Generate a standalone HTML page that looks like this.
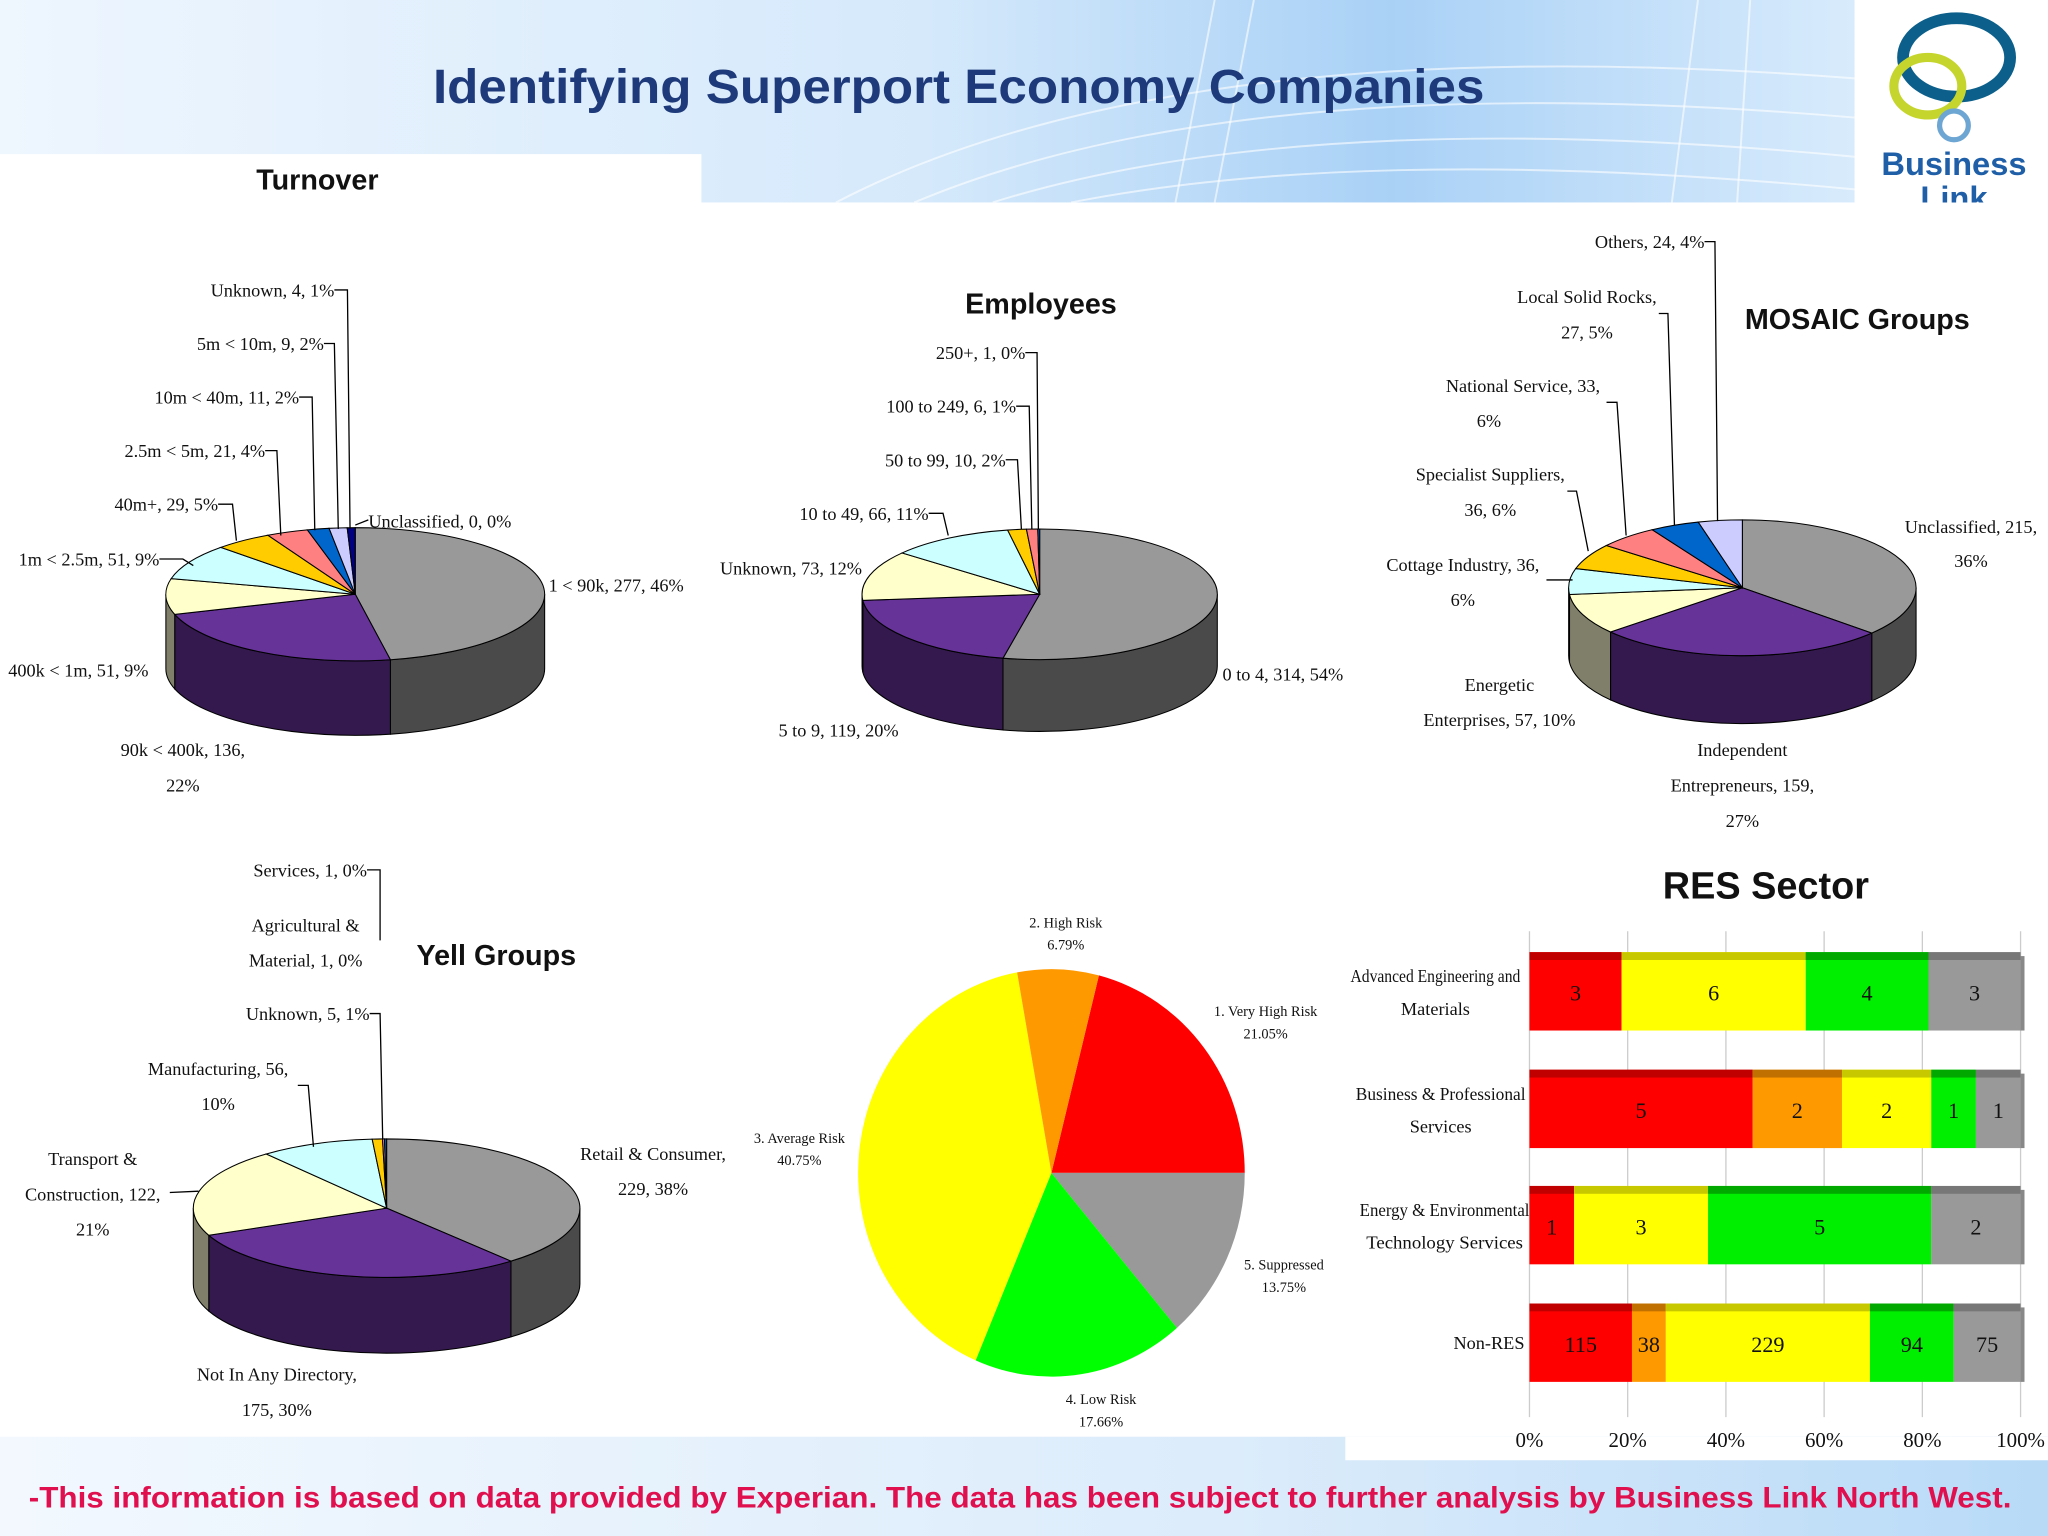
<!DOCTYPE html>
<html><head><meta charset="utf-8"><style>
html,body{margin:0;padding:0;background:#fff;}
svg{display:block;}
.n{font-family:"Liberation Serif","DejaVu Serif",serif;fill:#111;}
.t{font-family:"Liberation Sans Narrow","Liberation Sans",sans-serif;font-weight:bold;fill:#111;}
</style></head><body>
<svg id="s" width="2048" height="1536" viewBox="0 0 1568 1176" xmlns="http://www.w3.org/2000/svg">
<defs>
<linearGradient id="hg" x1="0" x2="1" y1="0" y2="0"><stop offset="0" stop-color="#eef6fe"/><stop offset="0.5" stop-color="#d5e9fb"/><stop offset="0.75" stop-color="#a9d1f6"/><stop offset="1" stop-color="#d8ebfc"/></linearGradient>
<linearGradient id="fg" x1="0" x2="1"><stop offset="0" stop-color="#f2f8fe"/><stop offset="0.6" stop-color="#dcecfb"/><stop offset="1" stop-color="#b8daf7"/></linearGradient>
</defs>
<rect x="0" y="0" width="1420" height="155" fill="url(#hg)"/>
<g stroke="#fff" stroke-opacity="0.6" fill="none" stroke-width="1.5">
<path d="M640 155 Q900 20 1420 60"/><path d="M700 155 Q950 50 1420 90"/><path d="M760 155 Q1000 80 1420 120"/><path d="M820 155 Q1050 110 1420 145"/><path d="M930 0 L900 155"/><path d="M960 0 L930 155"/><path d="M1300 0 L1280 155"/><path d="M1340 0 L1330 155"/>
</g>
<rect x="0" y="118" width="537" height="40" fill="#fff"/>
<rect x="1420" y="0" width="148" height="155" fill="#fff"/>
<g>
<ellipse cx="1498" cy="44" rx="41" ry="30" fill="none" stroke="#0b5f8a" stroke-width="9"/>
<ellipse cx="1476" cy="66" rx="26" ry="22" fill="none" stroke="#c5d52e" stroke-width="7"/>
<circle cx="1496" cy="96" r="11" fill="none" stroke="#6ea6d3" stroke-width="4"/>
<text x="1496" y="134" text-anchor="middle" font-family="Liberation Sans" font-weight="bold" font-size="25" fill="#1f5fa8">Business</text>
<svg x="1420" y="136" width="148" height="19"><text x="76" y="24" text-anchor="middle" font-family="Liberation Sans" font-weight="bold" font-size="25" fill="#1f5fa8">Link</text></svg>
</g>
<text x="734" y="79" text-anchor="middle" font-family="Liberation Sans" font-weight="bold" font-size="37" fill="#1f3a7a" textLength="805" lengthAdjust="spacingAndGlyphs">Identifying Superport Economy Companies</text>
<rect x="0" y="1100" width="1568" height="76" fill="url(#fg)"/>
<rect x="1030" y="1100" width="538" height="18" fill="#fff"/>
<text x="22" y="1154" font-family="Liberation Sans" font-weight="bold" font-size="23" fill="#e0104f" textLength="1518" lengthAdjust="spacingAndGlyphs">-This information is based on data provided by Experian. The data has been subject to further analysis by Business Link North West.</text>
<g id="charts"></g>
</svg>
<script>
// ---- data ----
const turnoverLabels=["1 < 90k","90k < 400k","400k < 1m","1m < 2.5m","40m+","2.5m < 5m","10m < 40m","5m < 10m","Unknown","Unclassified"];
const turnoverValues=[277,136,51,51,29,21,11,9,4,0];
const turnoverPct=["46%","22%","9%","9%","5%","4%","2%","2%","1%","0%"];
const employeeLabels=["0 to 4","5 to 9","Unknown","10 to 49","50 to 99","100 to 249","250+"];
const employeeValues=[314,119,73,66,10,6,1];
const employeePct=["54%","20%","12%","11%","2%","1%","0%"];
const mosaicLabels=["Unclassified","Independent Entrepreneurs","Energetic Enterprises","Cottage Industry","Specialist Suppliers","National Service","Local Solid Rocks","Others"];
const mosaicValues=[215,159,57,36,36,33,27,24];
const mosaicPct=["36%","27%","10%","6%","6%","6%","5%","4%"];
const yellLabels=["Retail & Consumer","Not In Any Directory","Transport & Construction","Manufacturing","Unknown","Agricultural & Material","Services"];
const yellValues=[229,175,122,56,5,1,1];
const yellPct=["38%","30%","21%","10%","1%","0%","0%"];
const riskLabels=["1. Very High Risk","5. Suppressed","4. Low Risk","3. Average Risk","2. High Risk"];
const riskValues=[21.05,13.75,17.66,40.75,6.79];
const resCategories=["Advanced Engineering and Materials","Business & Professional Services","Energy & Environmental Technology Services","Non-RES"];
const resRed=[3,5,1,115];
const resOrange=[0,2,0,38];
const resYellow=[6,2,3,229];
const resGreen=[4,1,5,94];
const resGray=[3,1,2,75];
const resTicks=["0%","20%","40%","60%","80%","100%"];

const NS="http://www.w3.org/2000/svg";
const root=document.getElementById('charts');
function el(tag,attrs,parent){const e=document.createElementNS(NS,tag);for(const k in attrs)e.setAttribute(k,attrs[k]);(parent||root).appendChild(e);return e;}
const topCols=["#999999","#663399","#ffffcc","#ccffff","#ffcc00","#ff8080","#0066cc","#ccccff","#000080","#ffffff"];
const sideCols=["#4a4a4a","#33194d","#80806a","#668080","#806600","#804040","#003366","#666680","#000040","#808080"];

function pie3d(name,cx,cy,rx,ry,d,vals){
  const g=el('g',{});
  
  
  const tot=vals.reduce((a,b)=>a+b,0);
  const pt=(a,dy)=>{const r=a*Math.PI/180;return [cx+rx*Math.sin(r),cy-ry*Math.cos(r)+(dy||0)];};
  let acc=0;const segs=[];
  vals.forEach((v,i)=>{const a0=acc/tot*360;acc+=v;const a1=acc/tot*360;segs.push([a0,a1,i]);});
  segs.forEach(([a0,a1,i])=>{
    const lo=Math.max(a0,90),hi=Math.min(a1,270);
    if(hi>lo){
      const p0=pt(lo),p1=pt(hi),q1=pt(hi,d),q0=pt(lo,d);
      const p=el('path',{d:`M${p0} A${rx} ${ry} 0 0 1 ${p1} L${q1} A${rx} ${ry} 0 0 0 ${q0} Z`,fill:sideCols[i],stroke:'#000','stroke-width':0.8},g);
      
      
    }
  });
  segs.forEach(([a0,a1,i])=>{
    if(a1-a0<=0)return;
    const p0=pt(a0),p1=pt(a1);
    const p=el('path',{d:`M${cx},${cy} L${p0} A${rx} ${ry} 0 ${a1-a0>180?1:0} 1 ${p1} Z`,fill:topCols[i],stroke:'#000','stroke-width':0.8},g);
    
    
  });
}
function txt(s,x,y,anchor,cls,size,name){
  const t=el('text',{x:x,y:y,'text-anchor':anchor||'middle',class:cls||'n'});
  t.setAttribute('font-size',size||15);
  t.textContent=s;
  
  
  return t;
}
function line(pts){const p=el('polyline',{points:pts,fill:'none',stroke:'#000','stroke-width':1});
  }
const lab=(L,V,P,i)=>L[i]+', '+V[i]+', '+P[i];
const F=14;

// ---- Turnover ----
txt('Turnover',243,145,'middle','t',22,'turnover-title');
pie3d('turnover-pie',272,455,145,51,57,turnoverValues);
txt(lab(turnoverLabels,turnoverValues,turnoverPct,0),420,453,'start','n',F,'turnover-label');
txt(turnoverLabels[1]+', '+turnoverValues[1]+',',140,579,'middle','n',F,'turnover-label');
txt(turnoverPct[1],140,606,'middle','n',F,'turnover-label');
txt(lab(turnoverLabels,turnoverValues,turnoverPct,2),60,518,'middle','n',F,'turnover-label');
txt(lab(turnoverLabels,turnoverValues,turnoverPct,3),122,433,'end','n',F,'turnover-label');line('122,428 140,428 148,433');
txt(lab(turnoverLabels,turnoverValues,turnoverPct,4),167,391,'end','n',F,'turnover-label');line('167,386 178,386 181,414');
txt(lab(turnoverLabels,turnoverValues,turnoverPct,5),203,350,'end','n',F,'turnover-label');line('203,345 212,345 215,410');
txt(lab(turnoverLabels,turnoverValues,turnoverPct,6),229,309,'end','n',F,'turnover-label');line('229,304 239,304 241,406');
txt(lab(turnoverLabels,turnoverValues,turnoverPct,7),248,268,'end','n',F,'turnover-label');line('248,263 256,263 259,405');
txt(lab(turnoverLabels,turnoverValues,turnoverPct,8),256,227,'end','n',F,'turnover-label');line('256,222 266,222 268,405');
txt(lab(turnoverLabels,turnoverValues,turnoverPct,9),282,404,'start','n',F,'turnover-label');line('272,402 282,398');

// ---- Employees ----
txt('Employees',797,240,'middle','t',22,'employees-title');
pie3d('employees-pie',796,455,136,50,55,employeeValues);
txt(lab(employeeLabels,employeeValues,employeePct,0),936,521,'start','n',F,'employees-label');
txt(lab(employeeLabels,employeeValues,employeePct,1),642,564,'middle','n',F,'employees-label');
txt(lab(employeeLabels,employeeValues,employeePct,2),660,440,'end','n',F,'employees-label');
txt(lab(employeeLabels,employeeValues,employeePct,3),711,398,'end','n',F,'employees-label');line('711,393 722,393 726,410');
txt(lab(employeeLabels,employeeValues,employeePct,4),770,357,'end','n',F,'employees-label');line('770,352 779,352 782,405');
txt(lab(employeeLabels,employeeValues,employeePct,5),778,316,'end','n',F,'employees-label');line('778,311 788,311 790,405');
txt(lab(employeeLabels,employeeValues,employeePct,6),785,275,'end','n',F,'employees-label');line('785,270 794,270 795,405');

// ---- MOSAIC ----
txt('MOSAIC Groups',1422,252,'middle','t',22,'mosaic-title');
pie3d('mosaic-pie',1334,450,133,52,52,mosaicValues);
txt(mosaicLabels[0]+', '+mosaicValues[0]+',',1509,408,'middle','n',F,'mosaic-label');
txt(mosaicPct[0],1509,434,'middle','n',F,'mosaic-label');
txt('Independent',1334,579,'middle','n',F,'mosaic-label');
txt('Entrepreneurs, '+mosaicValues[1]+',',1334,606,'middle','n',F,'mosaic-label');
txt(mosaicPct[1],1334,633,'middle','n',F,'mosaic-label');
txt('Energetic',1148,529,'middle','n',F,'mosaic-label');
txt('Enterprises, '+mosaicValues[2]+', '+mosaicPct[2],1148,556,'middle','n',F,'mosaic-label');
txt(mosaicLabels[3]+', '+mosaicValues[3]+',',1120,437,'middle','n',F,'mosaic-label');
txt(mosaicPct[3],1120,464,'middle','n',F,'mosaic-label');line('1184,444 1204,444');
txt(mosaicLabels[4]+',',1141,368,'middle','n',F,'mosaic-label');
txt(mosaicValues[4]+', '+mosaicPct[4],1141,395,'middle','n',F,'mosaic-label');line('1200,376 1207,376 1216,422');
txt(mosaicLabels[5]+', '+mosaicValues[5]+',',1166,300,'middle','n',F,'mosaic-label');
txt(mosaicPct[5],1140,327,'middle','n',F,'mosaic-label');line('1230,308 1238,308 1245,410');
txt(mosaicLabels[6]+',',1215,232,'middle','n',F,'mosaic-label');
txt(mosaicValues[6]+', '+mosaicPct[6],1215,259,'middle','n',F,'mosaic-label');line('1270,240 1277,240 1282,402');
txt(lab(mosaicLabels,mosaicValues,mosaicPct,7),1305,190,'end','n',F,'mosaic-label');line('1305,185 1313,185 1315,399');

// ---- Yell ----
txt('Yell Groups',380,739,'middle','t',22,'yell-title');
pie3d('yell-pie',296,925,148,53,58,yellValues);
txt(yellLabels[0]+',',500,888,'middle','n',F,'yell-label');
txt(yellValues[0]+', '+yellPct[0],500,915,'middle','n',F,'yell-label');
txt(yellLabels[1]+',',212,1057,'middle','n',F,'yell-label');
txt(yellValues[1]+', '+yellPct[1],212,1084,'middle','n',F,'yell-label');
txt('Transport &',71,892,'middle','n',F,'yell-label');
txt('Construction, '+yellValues[2]+',',71,919,'middle','n',F,'yell-label');
txt(yellPct[2],71,946,'middle','n',F,'yell-label');line('130,913 152,912');
txt(yellLabels[3]+', '+yellValues[3]+',',167,823,'middle','n',F,'yell-label');
txt(yellPct[3],167,850,'middle','n',F,'yell-label');line('228,831 236,831 240,878');
txt(lab(yellLabels,yellValues,yellPct,4),283,781,'end','n',F,'yell-label');line('283,776 291,776 293,872');
txt('Agricultural &',234,713,'middle','n',F,'yell-label');
txt('Material, '+yellValues[5]+', '+yellPct[5],234,740,'middle','n',F,'yell-label');
txt(lab(yellLabels,yellValues,yellPct,6),281,671,'end','n',F,'yell-label');line('281,666 291,666 291,720');

// ---- Risk pie ----
(function(){
  const cx=805,cy=898,rx=148,ry=156;
  const g=el('g',{});
  
  
  const cols=["#ff0000","#999999","#00ff00","#ffff00","#ff9900"];
  const tot=riskValues.reduce((a,b)=>a+b,0);
  let acc=90-riskValues[0]/tot*360;
  const pt=a=>{const r=a*Math.PI/180;return [cx+rx*Math.sin(r),cy-ry*Math.cos(r)];};
  riskValues.forEach((v,i)=>{
    const a0=acc,a1=acc+v/tot*360;acc=a1;
    const p=el('path',{d:`M${cx},${cy} L${pt(a0)} A${rx} ${ry} 0 ${a1-a0>180?1:0} 1 ${pt(a1)} Z`,fill:cols[i]},g);
    
    
  });
  const pos=[[969,778,795],[983,972,989],[843,1075,1092],[612,875,892],[816,710,727]];
  riskLabels.forEach((l,i)=>{
    txt(l,pos[i][0],pos[i][1],'middle','n',11,'risk-label');
    txt(riskValues[i].toFixed(2)+'%',pos[i][0],pos[i][2],'middle','n',11,'risk-value');
  });
})();

// ---- RES Sector bars ----
(function(){
  const tt=txt('RES Sector',1352,688,'middle',null,29,'res-title');
  tt.setAttribute('class','');
  tt.setAttribute('style','font-family:"Liberation Sans",sans-serif;font-weight:bold;fill:#111;font-size:29px');
  const x0=1171,x1=1547,rowY=[759,849,938,1028],bh=60;
  const xs=p=>x0+(x1-x0)*p;
  const g=el('g',{});
  
  
  resTicks.forEach((t,i)=>{
    const x=xs(i/(resTicks.length-1));
    const l=el('line',{x1:x,x2:x,y1:713,y2:1085,stroke:'#cccccc','stroke-width':1},g);
    
    txt(t,x,1108,'middle','n',16,'x-tick-label');
  });
  const series=[resRed,resOrange,resYellow,resGreen,resGray];
  const cols=["#ff0000","#ff9900","#ffff00","#00ee00","#999999"];
  const tops=["#c00000","#c07000","#c8c800","#00a800","#777777"];
  resCategories.forEach((c,r)=>{
    const tot=series.reduce((a,s)=>a+s[r],0);
    let acc=0;const y=rowY[r]-bh/2;
    series.forEach((s,k)=>{
      const v=s[r];if(!v)return;
      const xa=xs(acc/tot),xb=xs((acc+v)/tot);acc+=v;
      const b=el('rect',{x:xa,y:y,width:xb-xa,height:bh,fill:cols[k]},g);
      
      const tb=el('rect',{x:xa,y:y,width:xb-xa,height:6,fill:tops[k]},g);
      
      txt(String(v),(xa+xb)/2,rowY[r]+7,'middle','n',17,'bar-value');
    });
    const sh=el('rect',{x:x1,y:y+3,width:3,height:bh-3,fill:'#888'},g);
    
  });
  const cl=[[["Advanced Engineering and","Materials"],1099,752],[["Business & Professional","Services"],1103,842],[["Energy & Environmental","Technology Services"],1106,931],[["Non-RES"],1140,1033]];
  cl.forEach(([ls,x,y])=>ls.forEach((s,j)=>{
    const t=txt(s,x,y+j*25,'middle','n',14,'category-label');
    if(s.length>15){t.setAttribute('textLength',s.length>20?130:120);t.setAttribute('lengthAdjust','spacingAndGlyphs');}
  }));
})();
</script>
</body></html>
